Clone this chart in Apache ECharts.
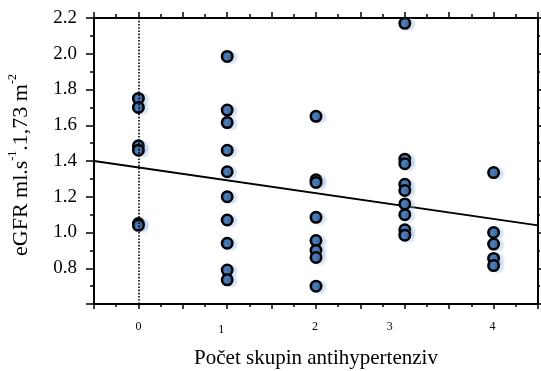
<!DOCTYPE html>
<html>
<head>
<meta charset="utf-8">
<script src="https://cdn.jsdelivr.net/npm/echarts@6/dist/echarts.min.js"></script>
<style>
  html, body { margin: 0; padding: 0; background: #fff; }
  #chart { width: 541px; height: 371px; }
</style>
</head>
<body>
<div id="chart"></div>
<script>
// Number of antihypertensive drug groups per patient
const groupCounts = [0, 1, 2, 3, 4];

// eGFR values for each group count
const eGFRGroup0 = [1.75, 1.70, 1.485, 1.46, 1.05, 1.04];
const eGFRGroup1 = [1.985, 1.685, 1.615, 1.46, 1.34, 1.20, 1.07, 0.94, 0.79, 0.735];
const eGFRGroup2 = [1.65, 1.295, 1.28, 1.085, 0.955, 0.90, 0.86, 0.70];
const eGFRGroup3 = [2.17, 1.41, 1.385, 1.27, 1.235, 1.16, 1.10, 1.015, 0.985];
const eGFRGroup4 = [1.335, 1.00, 0.935, 0.855, 0.815];
const eGFRByGroup = [eGFRGroup0, eGFRGroup1, eGFRGroup2, eGFRGroup3, eGFRGroup4];

// Linear fit drawn across the full x range
const fitX = [-0.5, 4.5];
const fitY = [1.40, 1.04];

// Axis tick labels
const xTickLabels = ['0', '1', '2', '3', '4'];
const yTickLabels = ['0.8', '1.0', '1.2', '1.4', '1.6', '1.8', '2.0', '2.2'];

const points = [];
groupCounts.forEach((g, i) => {
  eGFRByGroup[i].forEach(v => points.push([g, v]));
});
const fitLine = fitX.map((x, i) => [x, fitY[i]]);

const serif = '"Liberation Serif", "DejaVu Serif", serif';

const chart = echarts.init(document.getElementById('chart'), null, { renderer: 'canvas' });

const baseXAxis = {
  type: 'value',
  min: -0.5,
  max: 4.5,
  interval: 0.5,
  splitLine: { show: false },
  axisLine: { show: true, onZero: false, lineStyle: { color: '#000', width: 2 } },
  minorTick: { show: true, splitNumber: 2, length: 3, lineStyle: { color: '#000', width: 1.5 } },
  axisTick: { show: true, length: 5, lineStyle: { color: '#000', width: 1.5 } }
};

const baseYAxis = {
  type: 'value',
  min: 0.6,
  max: 2.2,
  interval: 0.2,
  splitLine: { show: false },
  axisLine: { show: true, onZero: false, lineStyle: { color: '#000', width: 2 } },
  minorTick: { show: true, splitNumber: 2, length: 4, lineStyle: { color: '#000', width: 1.5 } },
  axisTick: { show: true, length: 8, lineStyle: { color: '#000', width: 1.5 } }
};

const xLabelRich = {};
const xLabelPads = [[0, 0, 0, 0], [3, 12, 0, 0], [0, 2, 0, 0], [0, 30, 0, 0], [0, 2, 0, 0]];
xLabelPads.forEach((p, i) => {
  xLabelRich['t' + i] = { fontFamily: serif, fontSize: 12, color: '#000', padding: p };
});

chart.setOption({
  animation: false,
  backgroundColor: '#fff',
  grid: { left: 94, right: 3, top: 18, bottom: 67, containLabel: false, outerBoundsMode: 'none' },
  xAxis: [
    Object.assign({}, baseXAxis, {
      position: 'bottom',
      name: 'Počet skupin antihypertenziv',
      nameLocation: 'middle',
      nameGap: 44,
      nameTextStyle: { fontFamily: serif, fontSize: 21, color: '#000' },
      axisLabel: {
        show: true,
        margin: 17,
        fontFamily: serif,
        fontSize: 12,
        color: '#000',
        formatter: function (v) {
          const idx = groupCounts.indexOf(v);
          if (idx < 0) return '';
          return '{t' + idx + '|' + xTickLabels[idx] + '}';
        },
        rich: xLabelRich
      }
    }),
    Object.assign({}, baseXAxis, {
      position: 'top',
      axisLabel: { show: false },
      axisTick: { show: true, length: 6, lineStyle: { color: '#000', width: 1.5 } },
      minorTick: { show: true, splitNumber: 2, length: 4, lineStyle: { color: '#000', width: 1.5 } }
    })
  ],
  yAxis: [
    Object.assign({}, baseYAxis, {
      position: 'left',
      name: '{b|eGFR ml.s}{s|-1}{b|.1,73 m}{s|-2}',
      nameLocation: 'middle',
      nameRotate: 90,
      nameGap: 62,
      nameTextStyle: {
        color: '#000',
        padding: [0, 8, 0, 0],
        rich: {
          b: { fontFamily: serif, fontSize: 22, color: '#000', lineHeight: 25, verticalAlign: 'bottom' },
          s: { fontFamily: serif, fontSize: 12, color: '#000', lineHeight: 25, verticalAlign: 'top', padding: [0, 0, 10, 0] }
        }
      },
      axisLabel: {
        show: true,
        margin: 17,
        fontFamily: serif,
        fontSize: 19,
        color: '#000',
        formatter: function (v) {
          const s = v.toFixed(1);
          return yTickLabels.indexOf(s) >= 0 ? s : '';
        }
      }
    }),
    Object.assign({}, baseYAxis, {
      position: 'right',
      axisLabel: { show: false },
      axisTick: { show: true, length: 4, lineStyle: { color: '#000', width: 1.5 } },
      minorTick: { show: true, splitNumber: 2, length: 2, lineStyle: { color: '#000', width: 1.5 } }
    })
  ],
  series: [
    {
      type: 'line',
      data: fitLine,
      symbol: 'none',
      silent: true,
      lineStyle: { color: '#000', width: 1.8 },
      z: 2,
      markLine: {
        silent: true,
        symbol: 'none',
        label: { show: false },
        lineStyle: { color: '#000', type: 'dotted', width: 1.6 },
        data: [{ xAxis: 0 }]
      }
    },
    {
      type: 'scatter',
      data: points,
      symbol: 'circle',
      symbolSize: 10.5,
      z: 3,
      itemStyle: {
        color: '#3b6ba6',
        borderColor: '#000',
        borderWidth: 2.5,
        opacity: 1,
        shadowColor: 'rgba(150,185,235,0.3)',
        shadowOffsetX: 4,
        shadowOffsetY: 1,
        shadowBlur: 2
      }
    }
  ]
});
</script>
</body>
</html>
